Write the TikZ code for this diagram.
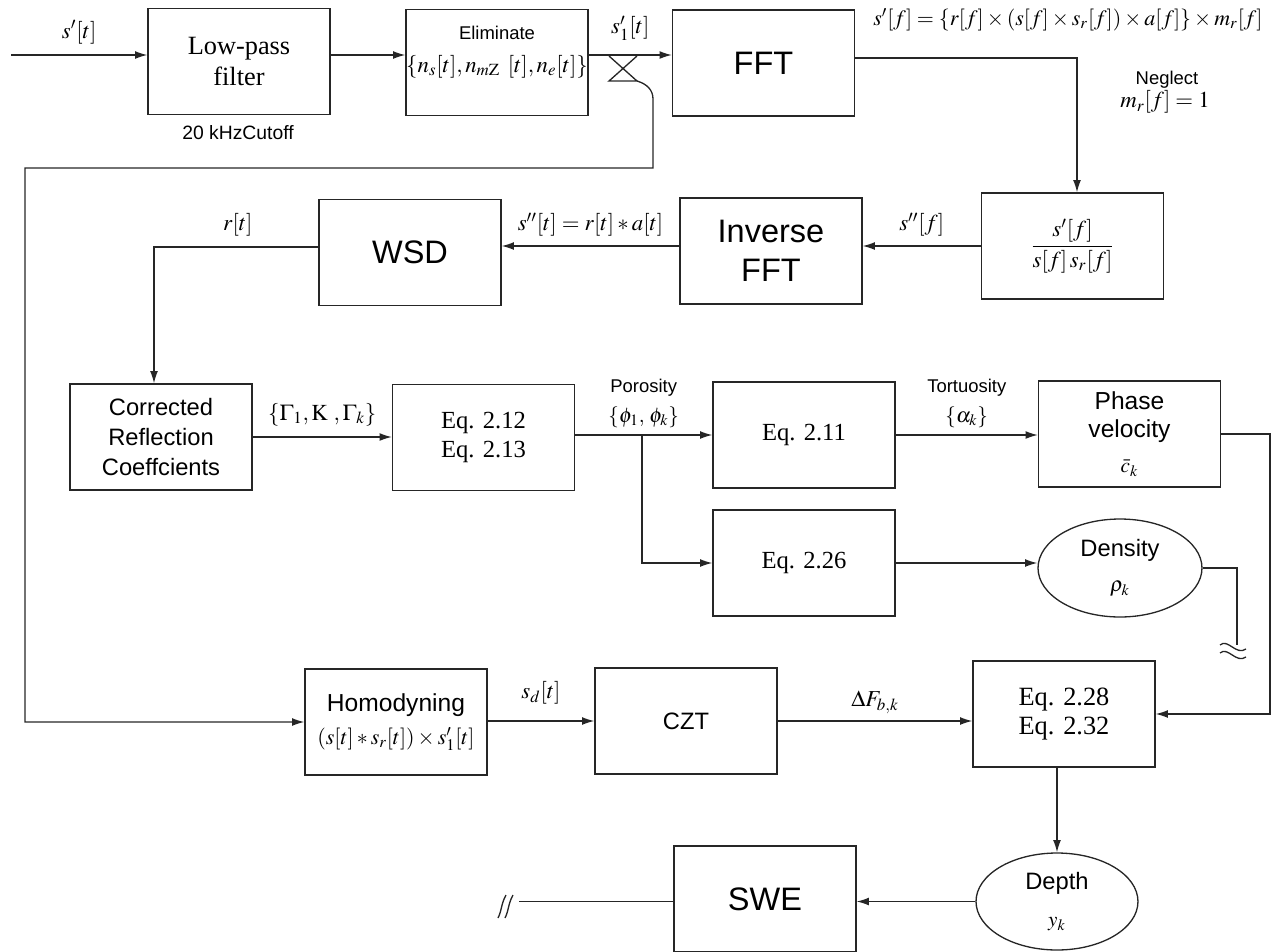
\documentclass[tikz,border=0pt]{standalone}
\usepackage{mathptmx}
\usepackage{fontspec}
\setmainfont{Liberation Serif}
\setsansfont{Liberation Sans}
\usetikzlibrary{arrows.meta,shapes.geometric}

\begin{document}
\begin{tikzpicture}[
  x=0.02cm, y=-0.02cm,
  >={Latex[length=7pt,width=4.5pt]},
  line width=0.75pt,
  box/.style={
    rectangle,
    draw=black!85,
    align=center,
    minimum width=3.64cm,
    minimum height=2.12cm,
    inner sep=2pt,
    font=\sffamily\fontsize{13.5}{17}\selectfont
  },
  bigbox/.style={box, font=\sffamily\fontsize{18.5}{22}\selectfont},
  eqbox/.style={box, font=\rmfamily\fontsize{14}{17}\selectfont},
  blob/.style={
    ellipse,
    draw=black!85,
    align=center,
    inner sep=0pt,
    font=\sffamily\fontsize{13.5}{16}\selectfont
  },
  lbl/.style={font=\rmfamily\fontsize{13}{15}\selectfont, align=center, inner sep=1pt},
  note/.style={font=\sffamily\fontsize{10.5}{13}\selectfont, align=center, inner sep=1pt},
  arr/.style={->, draw=black!85},
  wire/.style={draw=black!85}
]
\useasboundingbox (0,0) rectangle (1272,951);

% top row
\node[eqbox, font=\rmfamily\fontsize{15}{18}\selectfont] (lpf) at (239,61.5) {Low-pass\\filter};
\node[note, font=\sffamily\fontsize{11}{13}\selectfont] (cutoff) at (238,133) {20 kHzCutoff};
\node[box] (elim) at (497,62.5) {};
\node[lbl] (elimtxt) at (497,52) {{\sffamily\fontsize{10.5}{12}\selectfont Eliminate}\\[4pt]$\{n_s[t], n_{m\mathrm{Z}}\;\,[t], n_e[t]\}$};
\node[bigbox] (fft) at (763.5,63) {FFT};

\coordinate (in) at (11,55);
\draw[arr] (in) -- node[lbl, above=5pt] {$s'[t]$} (in -| lpf.west);
\draw[arr] (in -| lpf.east) -- (in -| elim.west);
\draw[arr] (in -| elim.east) -- node[lbl, above=7pt] {$s'_1[t]$} (in -| fft.west);

% crossover tap
\coordinate (xtl) at (609,56);
\coordinate (xtr) at (637,56);
\coordinate (xbl) at (609,81);
\coordinate (xbr) at (637,81);
\draw[wire] (xtl) -- (xbr) -- (xbl) -- (xtr);
\coordinate (fbtop) at (653,168);
\coordinate (fbleft) at (25,168);

\coordinate (fftturn) at (1077,58);
\node[lbl, font=\rmfamily\fontsize{12.5}{15}\selectfont] (sfeq) at (1068,20) {$s'[f]=\{r[f]\times(s[f]\times s_r[f])\times a[f]\}\times m_r[f]$};
\node[note] (neglect) at (1167,80) {Neglect};
\node[lbl] (mrone) at (1165,102) {$m_r[f]=1$};

% second row
\node[box, font=\rmfamily\fontsize{13}{15}\selectfont] (div) at (1072.5,246) {$\displaystyle\frac{s'[f]}{s[f]\,s_r[f]}$};
\node[bigbox] (ifft) at (771,251) {Inverse\\FFT};
\node[bigbox] (wsd) at (410,252.5) {WSD};

\draw[arr] (fft.east |- fftturn) -- (fftturn) -- (fftturn |- div.north);
\draw[arr] (div.west) -- node[lbl, above=4pt] {$s''[f]$} (div.west -| ifft.east);
\draw[arr] (ifft.west |- div.west) -- node[lbl, above=4pt] {$s''[t]=r[t]\ast a[t]$} (div.west -| wsd.east);

% third row
\node[box] (corr) at (161,437) {Corrected\\Reflection\\Coeffcients};
\node[eqbox] (eqa) at (483.5,437.5) {Eq. 2.12\\Eq. 2.13};
\node[eqbox] (eqb) at (804,435) {Eq. 2.11};
\node[box, font=\sffamily\fontsize{14}{16}\selectfont] (phase) at (1129.5,434) {Phase\\velocity\\[4pt]{\rmfamily\fontsize{12}{14}\selectfont$\bar{c}_k$}};
\node[eqbox] (eqc) at (804,563) {Eq. 2.26};
\node[blob, minimum width=3.28cm, minimum height=1.96cm] (dens) at (1120,568) {Density\\[4pt]{\rmfamily\fontsize{12}{14}\selectfont$\rho_k$}};

\coordinate (rturn) at (154,247);
\draw[arr] (wsd.west |- rturn) -- node[lbl, above=5pt, pos=0.49] {$r[t]$} (rturn) -- (rturn |- corr.north);
\draw[arr] (corr.east) -- node[lbl, above=5pt] {$\{\Gamma_1,\mathrm{K}\ ,\Gamma_k\}$} (corr.east -| eqa.west);
\draw[arr] (eqa.east |- eqb.west) -- node[note, above=3pt] {Porosity\\[4pt]{\rmfamily\fontsize{12}{14}\selectfont$\{\phi_1,\,\phi_k\}$}} (eqb.west);
\coordinate (split) at (642,435);
\draw[arr] (split) |- (eqc.west);
\draw[arr] (eqb.east) -- node[note, above=3pt] {Tortuosity\\[4pt]{\rmfamily\fontsize{12}{14}\selectfont$\{\alpha_k\}$}} (eqb.east -| phase.west);
\draw[arr] (eqc.east) -- (eqc.east -| dens.west);

\coordinate (dcut) at (1237,645);
\draw[wire] (dens.east) -| (dcut);
\draw[wire] (1220,645) .. controls (1228,638) and (1236,656) .. (1246,649);
\draw[wire] (1220,653) .. controls (1228,646) and (1236,664) .. (1246,657);

% fourth row
\node[box, font=\sffamily\fontsize{14}{16}\selectfont] (homo) at (396,722) {Homodyning\\[3pt]{\rmfamily\fontsize{12.5}{14}\selectfont$(s[t]\ast s_r[t])\times s'_1[t]$}};
\node[box] (czt) at (686,721) {CZT};
\node[eqbox, font=\rmfamily\fontsize{15}{17}\selectfont] (eqd) at (1064,714) {Eq. 2.28\\Eq. 2.32};

\coordinate (pturn) at (1270,435);
\draw[arr] (phase.east) -- (phase.east -| pturn) |- (eqd.east);
\draw[arr] (xbr) .. controls (647,84) and (653,90) .. (653,99) -- (fbtop) -- (fbleft) |- (homo.west);
\draw[arr] (homo.east |- czt.west) -- node[lbl, above=8pt] {$s_d[t]$} (czt.west);
\draw[arr] (czt.east) -- node[lbl, above=3pt] {$\Delta F_{b,k}$} (czt.east -| eqd.west);

% bottom row
\node[blob, minimum width=3.24cm, minimum height=1.94cm] (depth) at (1057,901.5) {Depth\\[5pt]{\rmfamily\fontsize{12}{14}\selectfont$y_k$}};
\node[bigbox] (swe) at (765,899) {SWE};

\draw[arr] (eqd.south -| depth.north) -- (depth.north);
\draw[arr] (depth.west) -- (depth.west -| swe.east);
\coordinate (scut) at (519,901.5);
\draw[wire] (depth.west -| swe.west) -- (scut);
\draw[wire] (498,918) .. controls (502,910) and (501,904) .. (506,895);
\draw[wire] (505,918) .. controls (509,910) and (508,904) .. (513,895);

\end{tikzpicture}
\end{document}
